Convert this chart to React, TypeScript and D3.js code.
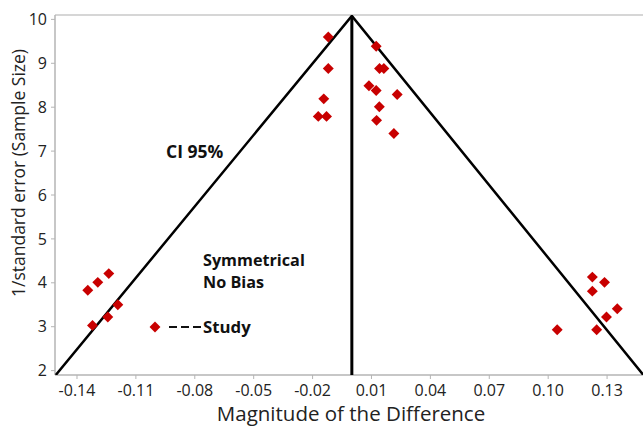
import React from "react";
import * as d3 from "d3";

// study effects (magnitude of difference) and precision (1/SE)
const studyX = [
  -0.1345, -0.1294, -0.1238, -0.1192, -0.1243, -0.1321,
  -0.012, -0.012, -0.0143, -0.0171, -0.0129,
  0.0124, 0.0141, 0.0163, 0.0087, 0.0124, 0.0231, 0.014, 0.0126, 0.0214,
  0.1225, 0.1287, 0.1225, 0.1352, 0.1297, 0.1247, 0.1046,
];
const studyY = [
  3.83, 4.01, 4.21, 3.5, 3.22, 3.03,
  9.6, 8.88, 8.19, 7.79, 7.79,
  9.39, 8.88, 8.88, 8.49, 8.38, 8.29, 8.01, 7.7, 7.4,
  4.13, 4.01, 3.81, 3.41, 3.22, 2.93, 2.93,
];

// funnel (CI 95%) boundaries: left end, apex, right end
const funnelX = [-0.1508, 0, 0.1485];
const funnelY = [1.9, 10.08, 1.9];

const xTicks = [-0.14, -0.11, -0.08, -0.05, -0.02, 0.01, 0.04, 0.07, 0.1, 0.13];
const xTickLabels = ["-0.14", "-0.11", "-0.08", "-0.05", "-0.02", "0.01", "0.04", "0.07", "0.10", "0.13"];
const yTicks = [2, 3, 4, 5, 6, 7, 8, 9, 10];

const W = 643;
const H = 427;
const left = 55;
const right = 643;
const top = 15;
const bottom = 375;
const font = "'Open Sans', 'Noto Sans', sans-serif";

export default function App() {
  const x = d3.scaleLinear().domain([-0.1512, 0.1483]).range([left, right]);
  const y = d3.scaleLinear().domain([1.9, 10.1]).range([bottom, top]);

  const funnel = d3
    .line<number>()
    .x((d) => x(funnelX[d]))
    .y((d) => y(funnelY[d]));

  const diamond = d3.symbol().type(d3.symbolDiamond2).size(76)();

  return (
    <svg
      width={W}
      height={H}
      style={{ position: "absolute", left: 0, top: 0, background: "#fff" }}
      fontFamily={font}
    >
      <defs>
        <clipPath id="plot">
          <rect x={left} y={top} width={right - left} height={bottom - top} />
        </clipPath>
      </defs>

      {/* frame */}
      <line x1={left} x2={right} y1={top} y2={top} stroke="#c8c8c8" strokeWidth={1.5} />
      <line x1={left} x2={left} y1={top} y2={bottom} stroke="#b4b4b4" strokeWidth={1.5} />
      <line x1={left} x2={right} y1={bottom} y2={bottom} stroke="#b4b4b4" strokeWidth={1.5} />

      {/* y axis */}
      {yTicks.map((t) => (
        <g key={t}>
          <line x1={left - 4} x2={left} y1={y(t)} y2={y(t)} stroke="#b4b4b4" />
          <text x={left - 8} y={y(t)} dy="0.35em" textAnchor="end" fontSize={16} fill="#222">
            {t}
          </text>
        </g>
      ))}

      {/* x axis */}
      {xTicks.map((t, i) => (
        <g key={t}>
          <line x1={x(t)} x2={x(t)} y1={bottom} y2={bottom + 4} stroke="#b4b4b4" />
          <text x={x(t)} y={bottom + 21} textAnchor="middle" fontSize={16} fill="#222">
            {xTickLabels[i]}
          </text>
        </g>
      ))}

      <text x={351} y={421} textAnchor="middle" fontSize={20.5} fill="#222">
        Magnitude of the Difference
      </text>
      <text
        transform={`translate(25, 173) rotate(-90)`}
        textAnchor="middle"
        fontSize={17.5}
        fill="#222"
      >
        1/standard error (Sample Size)
      </text>

      <g clipPath="url(#plot)">
        <path d={funnel([0, 1, 2]) ?? ""} fill="none" stroke="#000" strokeWidth={2.5} />
        <line x1={x(0)} x2={x(0)} y1={y(funnelY[1])} y2={bottom} stroke="#000" strokeWidth={3} />
        {studyX.map((v, i) => (
          <path
            key={i}
            d={diamond ?? ""}
            transform={`translate(${x(v)},${y(studyY[i])})`}
            fill="#c80000"
          />
        ))}
      </g>

      {/* annotations */}
      <text x={166} y={158} fontSize={17.5} fontWeight="bold" fill="#111">
        CI 95%
      </text>
      <text x={203} y={266} fontSize={16.2} fontWeight="bold" fill="#111">
        Symmetrical
      </text>
      <text x={203} y={288} fontSize={16.2} fontWeight="bold" fill="#111">
        No Bias
      </text>
      <path d={diamond ?? ""} transform="translate(155,327)" fill="#c80000" />
      <line x1={169} x2={202} y1={327} y2={327} stroke="#111" strokeWidth={2.2} strokeDasharray="8,4" />
      <text x={203} y={333} fontSize={16.8} fontWeight="bold" fill="#111">
        Study
      </text>
    </svg>
  );
}
